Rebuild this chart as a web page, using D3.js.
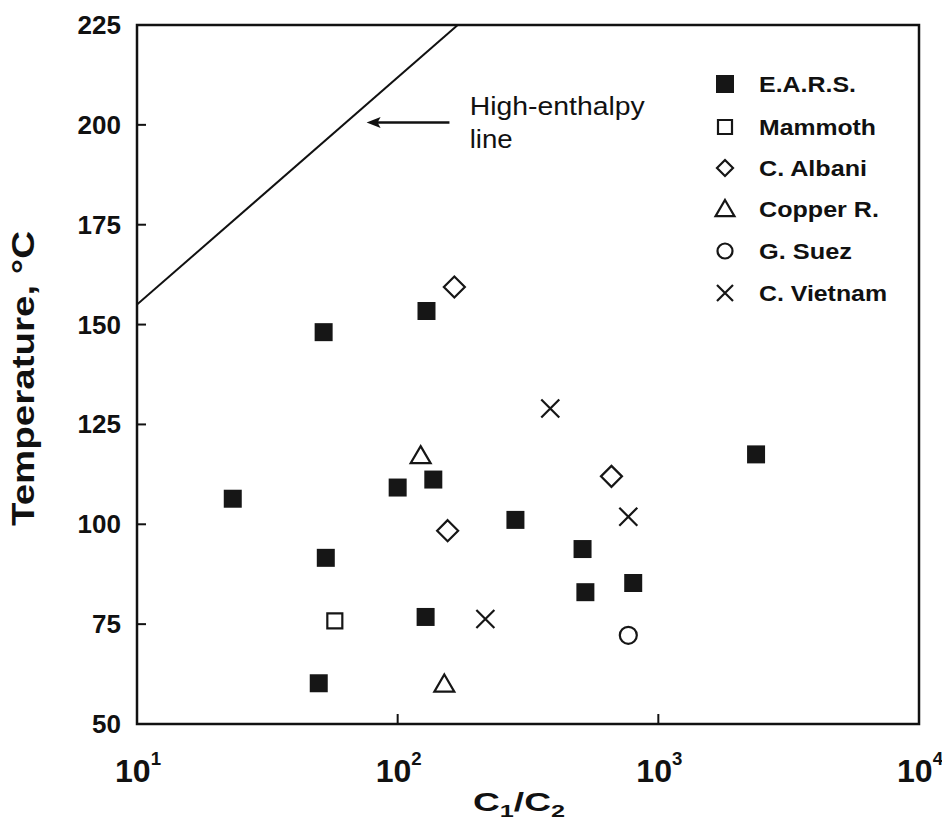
<!DOCTYPE html>
<html lang="en">
<head>
<meta charset="utf-8">
<title>C1/C2 vs temperature</title>
<script src="https://cdn.jsdelivr.net/npm/d3@7"></script>
<style>
  body { margin: 0; background: #fff; }
  text { font-family: "Liberation Sans", Arial, sans-serif; fill: #111; }
</style>
</head>
<body>
<svg id="chart"></svg>
<script>
// series (C1/C2 ratio, temperature in deg C)
const earsX = [52, 129, 23.3, 100, 137, 53, 283, 512, 525, 801, 2371, 128, 49.8];
const earsT = [148.1, 153.4, 106.4, 109.2, 111.2, 91.6, 101.1, 93.8, 83.0, 85.3, 117.5, 76.8, 60.2];
const mammothX = [57.4];
const mammothT = [75.8];
const albaniX = [165, 155.5, 661];
const albaniT = [159.4, 98.4, 112];
const copperX = [122.5, 151];
const copperT = [117.2, 60];
const suezX = [767];
const suezT = [72.2];
const vietnamX = [385, 767, 217];
const vietnamT = [129, 101.9, 76.3];

// high-enthalpy line end points
const lineX = [10, 170];
const lineT = [155, 225];

const seriesNames = ['E.A.R.S.', 'Mammoth', 'C. Albani', 'Copper R.', 'G. Suez', 'C. Vietnam'];
const yTicks = [50, 75, 100, 125, 150, 175, 200, 225];
const xTicks = [10, 100, 1000, 10000];

const width = 942, height = 836;
const margin = {top: 25, right: 23, bottom: 112, left: 137};

const svg = d3.select('#chart')
  .attr('width', width)
  .attr('height', height);

const x = d3.scaleLog()
  .domain([10, 10000])
  .range([margin.left, width - margin.right]);

const y = d3.scaleLinear()
  .domain([50, 225])
  .range([height - margin.bottom, margin.top]);

// marker shapes
function shape(type, r) {
  const p = d3.path();
  if (type === 'fsq' || type === 'sq') {
    p.rect(-r, -r, 2 * r, 2 * r);
  } else if (type === 'dia') {
    p.moveTo(0, -r); p.lineTo(r, 0); p.lineTo(0, r); p.lineTo(-r, 0); p.closePath();
  } else if (type === 'tri') {
    p.moveTo(0, -r); p.lineTo(r * 1.05, r * 0.8); p.lineTo(-r * 1.05, r * 0.8); p.closePath();
  } else if (type === 'circ') {
    p.arc(0, 0, r, 0, 2 * Math.PI);
  } else if (type === 'x') {
    p.moveTo(-r, -r); p.lineTo(r, r); p.moveTo(r, -r); p.lineTo(-r, r);
  }
  return p.toString();
}

const series = [
  {xs: earsX, ts: earsT, type: 'fsq', r: 9, lr: 9},
  {xs: mammothX, ts: mammothT, type: 'sq', r: 7.5, lr: 7},
  {xs: albaniX, ts: albaniT, type: 'dia', r: 10.5, lr: 8},
  {xs: copperX, ts: copperT, type: 'tri', r: 9.5, lr: 9},
  {xs: suezX, ts: suezT, type: 'circ', r: 8.5, lr: 7.5},
  {xs: vietnamX, ts: vietnamT, type: 'x', r: 9, lr: 8}
];

// frame
svg.append('rect')
  .attr('x', x(10))
  .attr('y', y(225))
  .attr('width', x(10000) - x(10))
  .attr('height', y(50) - y(225))
  .attr('fill', 'none')
  .attr('stroke', '#111')
  .attr('stroke-width', 2.5);

// inward ticks
svg.append('g')
  .selectAll('line')
  .data(yTicks.slice(1, -1))
  .enter().append('line')
  .attr('x1', x(10)).attr('x2', x(10) + 9)
  .attr('y1', d => y(d)).attr('y2', d => y(d))
  .attr('stroke', '#111').attr('stroke-width', 2);

svg.append('g')
  .selectAll('line')
  .data(xTicks.slice(1, -1))
  .enter().append('line')
  .attr('x1', d => x(d)).attr('x2', d => x(d))
  .attr('y1', y(50)).attr('y2', y(50) - 10)
  .attr('stroke', '#111').attr('stroke-width', 2);

// tick labels
svg.append('g')
  .selectAll('text')
  .data(yTicks)
  .enter().append('text')
  .attr('x', x(10) - 16)
  .attr('y', d => y(d) + 9)
  .attr('text-anchor', 'end')
  .attr('font-size', 26)
  .attr('font-weight', 'bold')
  .text(d => d);

const xl = svg.append('g')
  .selectAll('text')
  .data(xTicks)
  .enter().append('text')
  .attr('x', d => x(d) + 1)
  .attr('y', 782)
  .attr('text-anchor', 'middle')
  .attr('font-size', 31)
  .attr('font-weight', 'bold')
  .attr('textLength', 46)
  .attr('lengthAdjust', 'spacingAndGlyphs');
xl.append('tspan').text('10');
xl.append('tspan')
  .attr('dy', -17)
  .attr('font-size', 18)
  .text(d => Math.round(Math.log10(d)));

// axis titles
svg.append('text')
  .attr('transform', `translate(34,${(y(50) + y(225)) / 2 + 4}) rotate(-90)`)
  .attr('text-anchor', 'middle')
  .attr('font-size', 32)
  .attr('font-weight', 'bold')
  .attr('textLength', 295)
  .attr('lengthAdjust', 'spacingAndGlyphs')
  .text('Temperature, °C');

const xt = svg.append('text')
  .attr('x', 473)
  .attr('y', 811)
  .attr('font-size', 25)
  .attr('font-weight', 'bold')
  .attr('textLength', 92)
  .attr('lengthAdjust', 'spacingAndGlyphs');
xt.append('tspan').text('C');
xt.append('tspan').attr('dy', 6).attr('font-size', 17).text('1');
xt.append('tspan').attr('dy', -6).text('/C');
xt.append('tspan').attr('dy', 6).attr('font-size', 17).text('2');

// high-enthalpy line
svg.append('defs').append('clipPath')
  .attr('id', 'plot-clip')
  .append('rect')
  .attr('x', x(10)).attr('y', y(225))
  .attr('width', x(10000) - x(10)).attr('height', y(50) - y(225));

svg.append('path')
  .datum(lineX.map((d, i) => [d, lineT[i]]))
  .attr('d', d3.line().x(d => x(d[0])).y(d => y(d[1])))
  .attr('clip-path', 'url(#plot-clip)')
  .attr('fill', 'none')
  .attr('stroke', '#111')
  .attr('stroke-width', 2);

// arrow + note
svg.append('line')
  .attr('x1', x(158)).attr('x2', x(79))
  .attr('y1', y(200.6)).attr('y2', y(200.6))
  .attr('stroke', '#111')
  .attr('stroke-width', 2.5);

svg.append('path')
  .attr('d', `M${x(76)},${y(200.6)} l14,-5.5 l-3,5.5 l3,5.5 Z`)
  .attr('fill', '#111');

svg.append('text')
  .attr('x', x(189)).attr('y', y(202.4))
  .attr('font-size', 25)
  .attr('textLength', 175)
  .attr('lengthAdjust', 'spacingAndGlyphs')
  .text('High-enthalpy');

svg.append('text')
  .attr('x', x(189)).attr('y', y(194.3))
  .attr('font-size', 25)
  .attr('textLength', 43)
  .attr('lengthAdjust', 'spacingAndGlyphs')
  .text('line');

// points
series.forEach(s => {
  svg.append('g')
    .selectAll('path')
    .data(s.xs.map((d, i) => [d, s.ts[i]]))
    .enter().append('path')
    .attr('transform', d => `translate(${x(d[0])},${y(d[1])})`)
    .attr('d', shape(s.type, s.r))
    .attr('fill', s.type === 'fsq' ? '#161616' : 'none')
    .attr('stroke', '#161616')
    .attr('stroke-width', s.type === 'fsq' ? 0 : 2.2);
});

// legend
const legendRows = [84, 127, 168, 209, 251, 293];
const legendWidths = [97, 117, 108, 120, 93, 128];
const legend = svg.append('g')
  .selectAll('g')
  .data(seriesNames)
  .enter().append('g')
  .attr('transform', (d, i) => `translate(725,${legendRows[i]})`);

legend.append('path')
  .attr('d', (d, i) => shape(series[i].type, series[i].lr))
  .attr('fill', (d, i) => series[i].type === 'fsq' ? '#161616' : 'none')
  .attr('stroke', '#161616')
  .attr('stroke-width', (d, i) => series[i].type === 'fsq' ? 0 : 2.2);

legend.append('text')
  .attr('x', 34)
  .attr('y', 8)
  .attr('font-size', 22)
  .attr('font-weight', 'bold')
  .attr('textLength', (d, i) => legendWidths[i])
  .attr('lengthAdjust', 'spacingAndGlyphs')
  .text(d => d);
</script>
</body>
</html>
